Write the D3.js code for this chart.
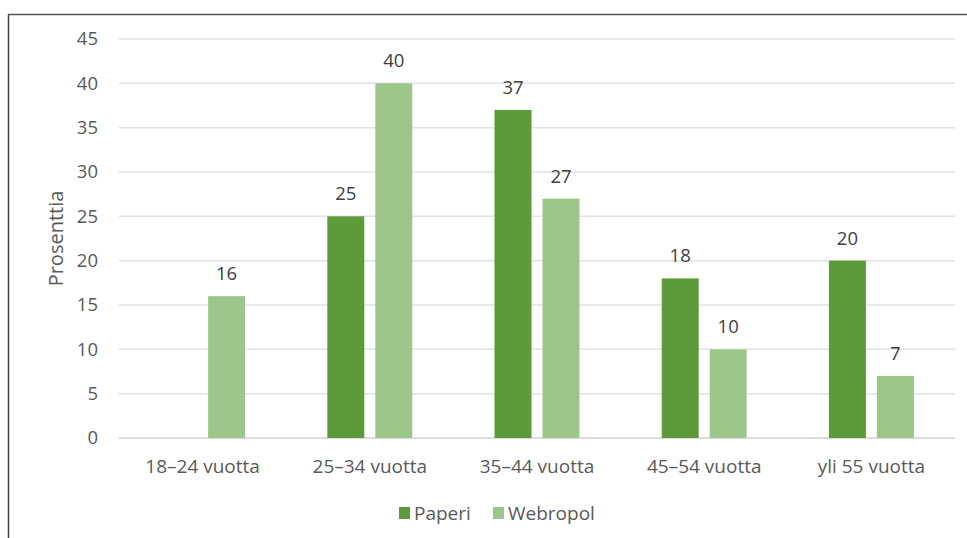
<!DOCTYPE html>
<html>
<head>
<meta charset="utf-8">
<script src="https://cdn.jsdelivr.net/npm/d3@7/dist/d3.min.js"></script>
<style>
  html, body { margin: 0; padding: 0; background: #fff; }
  svg { display: block; }
  text { font-family: "Open Sans", "Noto Sans", sans-serif; }
</style>
</head>
<body>
<svg id="chart" width="967" height="538"></svg>
<script>
// Age groups and response shares (%) per survey method
const categories = ["18–24 vuotta", "25–34 vuotta", "35–44 vuotta", "45–54 vuotta", "yli 55 vuotta"];
const seriesNames = ["Paperi", "Webropol"];
const paperi = [null, 25, 37, 18, 20];
const webropol = [16, 40, 27, 10, 7];
const yTicks = [0, 5, 10, 15, 20, 25, 30, 35, 40, 45];
const colors = ["#5d9a3b", "#9dc68a"];

const svg = d3.select("#chart");
const W = 967, H = 538;
const FONT = "'Open Sans', 'Noto Sans', sans-serif";

// outer frame (top and left edges)
svg.append("line").attr("x1", 8.5).attr("x2", 8.5).attr("y1", 14.5).attr("y2", H)
  .attr("stroke", "#444").attr("stroke-width", 1.5);
svg.append("line").attr("x1", 8).attr("x2", W).attr("y1", 14.5).attr("y2", 14.5)
  .attr("stroke", "#555").attr("stroke-width", 1.5);

const plot = { left: 119, right: 955, top: 39, bottom: 438 };

const x = d3.scaleBand().domain(categories).range([plot.left, plot.right]).paddingInner(0).paddingOuter(0);
const y = d3.scaleLinear().domain([0, 45]).range([plot.bottom, plot.top]);

// horizontal gridlines
svg.append("g").selectAll("line").data(yTicks).join("line")
  .attr("x1", plot.left).attr("x2", plot.right)
  .attr("y1", d => y(d)).attr("y2", d => y(d))
  .attr("stroke", d => d === 0 ? "#d0d0d0" : "#e2e2e2").attr("stroke-width", 1.5);

// y axis labels
const yAxis = d3.axisLeft(y).tickValues(yTicks).tickSize(0).tickPadding(0);
const gy = svg.append("g").attr("transform", `translate(${plot.left - 21},0)`).call(yAxis);
gy.select(".domain").remove();
gy.selectAll("text").attr("fill", "#595959").style("font-size", "18.5px").style("font-family", FONT);

// x axis labels
const xAxis = d3.axisBottom(x).tickSize(0).tickPadding(0);
const gx = svg.append("g").attr("transform", `translate(0,${plot.bottom + 21})`).call(xAxis);
gx.select(".domain").remove();
gx.selectAll("text").attr("fill", "#595959").style("font-size", "19px").style("font-family", FONT);

// y axis title
svg.append("text")
  .attr("transform", `translate(63,${(plot.top + plot.bottom) / 2}) rotate(-90)`)
  .attr("text-anchor", "middle")
  .attr("fill", "#595959").style("font-size", "20px")
  .text("Prosenttia");

// grouped bars: two bars centred in each category band
const barW = 37, gap = 11;
const inner = d3.scaleBand().domain(seriesNames)
  .range([x.bandwidth() / 2 - barW - gap / 2, x.bandwidth() / 2 + barW + gap / 2])
  .paddingInner(gap / (barW + gap)).paddingOuter(0);

const rows = categories.map((c, i) => ({ c, vals: [paperi[i], webropol[i]] }));

const groups = svg.append("g").selectAll("g").data(rows).join("g")
  .attr("transform", d => `translate(${x(d.c)},0)`);

const cells = d => d.vals.map((v, j) => ({ v, s: seriesNames[j], j })).filter(e => e.v != null);

groups.selectAll("rect").data(cells).join("rect")
  .attr("x", e => inner(e.s))
  .attr("width", inner.bandwidth())
  .attr("y", e => y(e.v))
  .attr("height", e => y(0) - y(e.v))
  .attr("fill", e => colors[e.j]);

groups.selectAll("text.val").data(cells).join("text")
  .attr("class", "val")
  .attr("x", e => inner(e.s) + inner.bandwidth() / 2)
  .attr("y", e => y(e.v) - 16)
  .attr("text-anchor", "middle")
  .attr("fill", "#404040").style("font-size", "18.5px")
  .text(e => e.v);

// legend
const legend = svg.append("g").attr("transform", "translate(399,507)");
const items = legend.selectAll("g").data(seriesNames).join("g")
  .attr("transform", (d, i) => `translate(${i === 0 ? 0 : 94},0)`);
items.append("rect").attr("width", 11).attr("height", 12).attr("fill", (d, i) => colors[i]);
items.append("text").attr("x", 15).attr("y", 12.5)
  .attr("fill", "#595959").style("font-size", "19px").text(d => d);
</script>
</body>
</html>
